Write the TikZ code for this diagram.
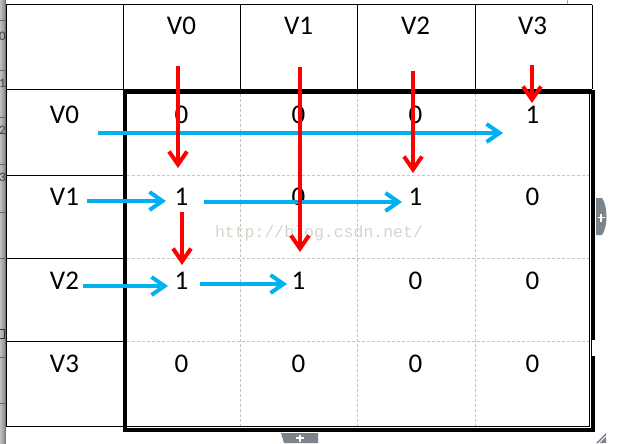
\documentclass[tikz,border=0pt]{standalone}
\usepackage{fontspec}
\setmainfont{Carlito}
\newfontfamily\wmfont{Liberation Mono}
\usetikzlibrary{arrows.meta}
\definecolor{arrred}{HTML}{FF0000}
\definecolor{arrblue}{HTML}{00B0F0}
\definecolor{gridgray}{HTML}{C4C4C4}
\definecolor{uigray}{HTML}{7B838B}
\definecolor{wmgray}{HTML}{D8D4CC}
\tikzset{
  lbl/.style={anchor=base, inner sep=0pt, font=\fontsize{27}{30}\selectfont},
  rownum/.style={anchor=east, inner sep=0pt, text=black!75, font=\fontsize{13}{14}\selectfont},
  cellline/.style={line width=1pt, black},
  dashgrid/.style={line width=0.8pt, gridgray, dash pattern=on 3pt off 2pt},
  redarrow/.style={draw=arrred, line width=4pt, -{Straight Barb[length=13pt,width=18pt,sharp]}},
  bluearrow/.style={draw=arrblue, line width=4pt, -{Straight Barb[length=13pt,width=18pt,sharp]}},
}
\begin{document}
\begin{tikzpicture}[x=1pt,y=-1pt]
\useasboundingbox (0,0) rectangle (621,444);
\fill[white] (0,0) rectangle (621,444);
% spreadsheet row-header sliver at the left
\shade[left color=black!25, right color=black!45] (0,0) rectangle (5,444);
\draw[black!55, line width=0.8pt] (5,0) -- (5,444);
\foreach \yy in {20,70,117,164,212,258,357,403}{\draw[black!60, line width=0.6pt] (0,\yy) -- (5,\yy);}
\begin{scope}
\clip (0,0) rectangle (5.5,444);
\node[rownum] (ln0) at (6,36) {0};
\node[rownum] (ln1) at (6,83) {1};
\node[rownum] (ln2) at (6,130) {2};
\node[rownum] (ln3) at (6,177) {3};
\draw[black!80, line width=0.8pt] (-2,329) rectangle (4,338);
\end{scope}
\draw[black!35, line width=0.8pt] (567,0) -- (567,5);
% table frame: header row and left column
\draw[cellline] (6,5) -- (592,5);
\draw[cellline] (6,89) -- (592,89);
\draw[cellline] (6,5) -- (6,426);
\foreach \xx in {123,240,357,475,592}{\draw[cellline] (\xx,5) -- (\xx,89);}
\draw[cellline] (123,89) -- (123,426);
\foreach \yy in {175,258,341,426}{\draw[cellline] (6,\yy) -- (123,\yy);}
% dashed inner grid
\foreach \xx in {240,357,475}{\draw[dashgrid] (\xx,94) -- (\xx,426);}
\foreach \yy in {175,258,341}{\draw[dashgrid] (127,\yy) -- (589,\yy);}
% thick selection border
\draw[black, line width=4pt] (124.5,92) rectangle (593,429.7);
\draw[black, line width=0.9pt] (589.3,94) -- (589.3,426) -- (127,426);
\fill[white] (592.2,340) rectangle (595.5,356);
% UI tabs
\fill[uigray] (596,198) -- (602,198) .. controls (608,206) and (608,227) .. (602,235) -- (596,235) -- cycle;
\draw[white, line width=1.6pt] (597.5,217.5) -- (605,217.5) (601.2,213.5) -- (601.2,221.5);
\fill[uigray] (281,433) -- (318,433) -- (318,443) -- (284,443) -- cycle;
\draw[white, line width=1.6pt] (296,438) -- (304,438) (300,434.5) -- (300,441.5);
\fill[uigray] (606,433) -- (606,443) -- (596,443) -- cycle;
\draw[white, line width=1pt] (599,443) -- (606,436);
% headers
\node[lbl] (h0) at (181.5,35) {V0};
\node[lbl] (h1) at (298.5,35) {V1};
\node[lbl] (h2) at (415.5,35) {V2};
\node[lbl] (h3) at (532.5,35) {V3};
% row labels
\node[lbl] (r0) at (64.5,123) {V0};
\node[lbl] (r1) at (64.5,205) {V1};
\node[lbl] (r2) at (64.5,289) {V2};
\node[lbl] (r3) at (64.5,372) {V3};
% cells
\node[lbl] (c00) at (181.5,123) {0};
\node[lbl] (c01) at (298.5,123) {0};
\node[lbl] (c02) at (415.5,123) {0};
\node[lbl] (c03) at (532.5,123) {1};
\node[lbl] (c10) at (181.5,205) {1};
\node[lbl] (c11) at (298.5,205) {0};
\node[lbl] (c12) at (415.5,205) {1};
\node[lbl] (c13) at (532.5,205) {0};
\node[lbl] (c20) at (181.5,289) {1};
\node[lbl] (c21) at (298.5,289) {1};
\node[lbl] (c22) at (415.5,289) {0};
\node[lbl] (c23) at (532.5,289) {0};
\node[lbl] (c30) at (181.5,372) {0};
\node[lbl] (c31) at (298.5,372) {0};
\node[lbl] (c32) at (415.5,372) {0};
\node[lbl] (c33) at (532.5,372) {0};
% watermark
\node[anchor=center, inner sep=0pt, text=wmgray, font=\wmfont\fontsize{16.5}{18}\selectfont] (wm) at (319,233) {http://blog.csdn.net/};
% arrow end points
\coordinate (b1s) at (98,133);  \coordinate (b1e) at (503,133);
\coordinate (b2s) at (87,201);  \coordinate (b2e) at (166,201);
\coordinate (b3s) at (204,202); \coordinate (b3e) at (402,202);
\coordinate (b4s) at (83,286);  \coordinate (b4e) at (168,286);
\coordinate (b5s) at (200,284); \coordinate (b5e) at (287,284);
\coordinate (r1s) at (178,66);  \coordinate (r1e) at (178,168);
\coordinate (r2s) at (300,67);  \coordinate (r2e) at (300,252);
\coordinate (r3s) at (182,212); \coordinate (r3e) at (182,265);
\coordinate (r4s) at (413,71);  \coordinate (r4e) at (413,173);
\coordinate (r5s) at (532,65);  \coordinate (r5e) at (532,103);
% blue arrows
\draw[bluearrow] (b1s) -- (b1e);
\draw[bluearrow] (b2s) -- (b2e);
\draw[bluearrow] (b3s) -- (b3e);
\draw[bluearrow] (b4s) -- (b4e);
\draw[bluearrow] (b5s) -- (b5e);
% red arrows
\draw[redarrow] (r1s) -- (r1e);
\draw[redarrow] (r2s) -- (r2e);
\draw[redarrow] (r3s) -- (r3e);
\draw[redarrow] (r4s) -- (r4e);
\draw[redarrow] (r5s) -- (r5e);
\end{tikzpicture}
\end{document}
